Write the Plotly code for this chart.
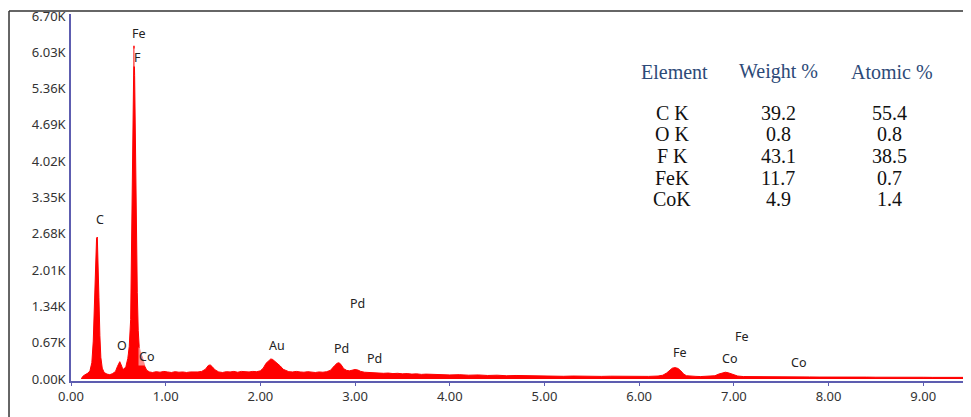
import plotly.graph_objects as go

# ---- spectrum (keV, counts) ----
energy = [0.11, 0.12, 0.14, 0.16, 0.18, 0.20, 0.22, 0.235, 0.25, 0.26, 0.27, 0.278, 0.285, 0.295,
          0.305, 0.315, 0.33, 0.35, 0.38, 0.41, 0.44, 0.47, 0.49, 0.505, 0.515, 0.53, 0.545, 0.56,
          0.58, 0.60, 0.615, 0.63, 0.64, 0.65, 0.658, 0.665, 0.672, 0.68, 0.69, 0.70, 0.71, 0.72,
          0.735, 0.75, 0.765, 0.78, 0.80, 0.83, 0.86, 0.90, 0.94, 0.98, 1.02, 1.06, 1.10, 1.14,
          1.18, 1.22, 1.26, 1.30, 1.34, 1.38, 1.42, 1.45, 1.47, 1.49, 1.52, 1.56, 1.60, 1.64,
          1.68, 1.72, 1.76, 1.80, 1.84, 1.88, 1.92, 1.96, 2.00, 2.03, 2.06, 2.09, 2.11, 2.13,
          2.15, 2.18, 2.21, 2.24, 2.27, 2.30, 2.34, 2.38, 2.42, 2.46, 2.50, 2.54, 2.58, 2.62,
          2.66, 2.70, 2.74, 2.78, 2.81, 2.83, 2.85, 2.88, 2.91, 2.94, 2.97, 3.00, 3.03, 3.06,
          3.10, 3.15, 3.20, 3.25, 3.30, 3.35, 3.40, 3.45, 3.50, 3.55, 3.60, 3.65, 3.70, 3.75,
          3.80, 3.85, 3.90, 3.95, 4.00, 4.10, 4.20, 4.30, 4.40, 4.50, 4.60, 4.70, 4.80, 4.90,
          5.00, 5.10, 5.20, 5.30, 5.40, 5.50, 5.60, 5.70, 5.80, 5.90, 6.00, 6.10, 6.20, 6.25,
          6.29, 6.32, 6.35, 6.38, 6.41, 6.44, 6.47, 6.50, 6.55, 6.60, 6.65, 6.70, 6.75, 6.80,
          6.84, 6.88, 6.91, 6.94, 6.97, 7.00, 7.04, 7.10, 7.20, 7.30, 7.40, 7.50, 7.60, 7.70,
          7.80, 7.90, 8.00, 8.10, 8.20, 8.30, 8.40, 8.50, 8.60, 8.70, 8.80, 8.90, 9.00, 9.10,
          9.20, 9.30, 9.42]
counts = [0, 40, 70, 90, 110, 150, 300, 700, 1500, 2200, 2600, 2620, 2300, 1500,
          800, 400, 200, 120, 90, 80, 100, 140, 230, 310, 320, 260, 190, 180,
          230, 380, 600, 1100, 2300, 3700, 5200, 6150, 5600, 4300, 2800, 1600, 900, 600,
          470, 420, 330, 230, 160, 130, 120, 135, 125, 140, 130, 120, 135, 125,
          130, 120, 130, 125, 130, 140, 180, 250, 260, 230, 170, 130, 120, 135,
          130, 140, 125, 140, 135, 130, 140, 135, 150, 200, 290, 350, 370, 360,
          330, 300, 240, 180, 150, 135, 130, 140, 130, 125, 135, 130, 120, 130,
          125, 135, 160, 240, 290, 300, 270, 190, 160, 150, 170, 175, 165, 140,
          125, 120, 110, 115, 105, 110, 100, 105, 95, 100, 90, 95, 85, 90,
          85, 80, 85, 80, 75, 80, 70, 75, 65, 70, 60, 65, 60, 55,
          60, 55, 50, 55, 50, 55, 48, 52, 50, 45, 50, 48, 55, 70,
          110, 160, 200, 210, 195, 150, 90, 60, 50, 48, 45, 50, 48, 60,
          90, 115, 125, 115, 95, 75, 55, 45, 42, 40, 42, 38, 40, 37,
          38, 36, 38, 35, 36, 34, 35, 33, 35, 32, 33, 31, 32, 30,
          31, 30, 30]

# ---- peak labels ----
label_text = ["Fe", "F", "C", "O", "Co", "Au", "Pd", "Pd", "Pd", "Fe", "Co", "Fe", "Co"]
label_x = [0.718, 0.707, 0.306, 0.539, 0.792, 2.175, 2.86, 3.21, 3.03, 6.43, 6.95, 7.09, 7.68]
label_y = [6385, 5925, 2944, 626, 423, 626, 570, 386, 1398, 497, 386, 791, 313]

# ---- axis ticks ----
x_ticks = [0, 1, 2, 3, 4, 5, 6, 7, 8, 9]
x_ticktext = ["0.00", "1.00", "2.00", "3.00", "4.00", "5.00", "6.00", "7.00", "8.00", "9.00"]
y_ticks = [0, 670, 1340, 2010, 2680, 3350, 4020, 4690, 5360, 6030, 6700]
y_ticktext = ["0.00K", "0.67K", "1.34K", "2.01K", "2.68K", "3.35K", "4.02K", "4.69K",
              "5.36K", "6.03K", "6.70K"]

# ---- composition table ----
table_header = ["Element", "Weight %", "Atomic %"]
table_element = ["C K", "O K", "F K", "FeK", "CoK"]
table_weight = ["39.2", "0.8", "43.1", "11.7", "4.9"]
table_atomic = ["55.4", "0.8", "38.5", "0.7", "1.4"]

fig = go.Figure()
fig.add_trace(go.Scatter(x=energy, y=counts, mode="lines", fill="tozeroy",
                         line=dict(color="#ff0000", width=1), fillcolor="#ff0000",
                         hoverinfo="skip", showlegend=False))

annotations = []
for t, x, y in zip(label_text, label_x, label_y):
    annotations.append(dict(x=x, y=y, xref="x", yref="y", text=t, showarrow=False,
                            xanchor="center", yanchor="middle",
                            font=dict(family="Noto Sans", size=12.5, color="#222222"),
                            bgcolor="rgba(255,255,255,0.55)", borderpad=0))

col_x = [0.677, 0.793, 0.920]
row_y = [0.730, 0.672, 0.613, 0.554, 0.496]
for cx, h in zip(col_x, table_header):
    annotations.append(dict(x=cx, y=0.842, xref="paper", yref="paper", text=h, showarrow=False,
                            xanchor="center", yanchor="middle",
                            font=dict(family="Liberation Serif", size=20, color="#2d4a78")))
for col, cx in zip([table_element, table_weight, table_atomic], [0.674, 0.793, 0.918]):
    for v, ry in zip(col, row_y):
        annotations.append(dict(x=cx, y=ry, xref="paper", yref="paper", text=v, showarrow=False,
                                xanchor="center", yanchor="middle",
                                font=dict(family="Liberation Serif", size=20, color="#111111")))

axis_col = "#5d5db0"
fig.update_layout(
    width=963, height=409,
    margin=dict(l=63, r=8, t=6, b=36, autoexpand=False),
    paper_bgcolor="white", plot_bgcolor="white",
    annotations=annotations,
    xaxis=dict(range=[0, 9.42], tickvals=x_ticks, ticktext=x_ticktext, showgrid=False,
               zeroline=False, showline=True, linecolor=axis_col, linewidth=1.5,
               ticks="outside", ticklen=3, tickcolor=axis_col, automargin=False,
               tickfont=dict(family="Noto Sans", size=13, color="#333333")),
    yaxis=dict(range=[-37, 6737], tickvals=y_ticks, ticktext=y_ticktext, showgrid=False,
               zeroline=False, showline=True, linecolor=axis_col, linewidth=1.5,
               ticks="", ticklabelstandoff=1, ticklabeloverflow="allow", automargin=False,
               tickfont=dict(family="Noto Sans", size=13, color="#333333")),
    shapes=[
        dict(type="line", xref="paper", yref="paper", x0=-0.0695, x1=1.02, y0=1.008, y1=1.008,
             line=dict(color="#333333", width=1.5)),
        dict(type="line", xref="paper", yref="paper", x0=-0.0695, x1=-0.0695, y0=-0.2, y1=1.008,
             line=dict(color="#333333", width=1.5)),
    ],
)

fig.write_html("out.html")
